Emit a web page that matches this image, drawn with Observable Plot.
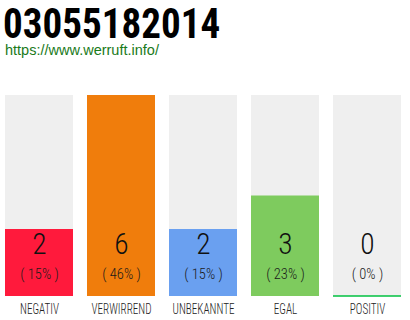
<!DOCTYPE html>
<html>
<head>
<meta charset="utf-8">
<script src="https://cdn.jsdelivr.net/npm/d3@7"></script>
<script src="https://cdn.jsdelivr.net/npm/@observablehq/plot@0.6"></script>
<style>
  html, body { margin: 0; padding: 0; background: #fff; }
  #wrap { width: 410px; height: 320px; overflow: hidden; }
  .title {
    height: 40px; padding-left: 3px; white-space: nowrap;
  }
  .title span {
    display: inline-block; position: relative; top: 3.7px;
    font-family: "Roboto Condensed", "Roboto", sans-serif;
    font-weight: bold; font-size: 42px; line-height: 40px;
    color: #000; transform: scaleX(0.93); transform-origin: left center;
  }
  .sub {
    font-family: "Liberation Sans", Arial, sans-serif;
    font-size: 14.5px; line-height: 20px; height: 20px;
    color: #1a7a1a; padding-left: 5px;
  }
  svg text { font-family: "Roboto Condensed", "Roboto", sans-serif; font-weight: 300; }
</style>
</head>
<body>
<div id="wrap">
  <div class="title"><span>03055182014</span></div>
  <div class="sub">https://www.werruft.info/</div>
  <div id="chart"></div>
</div>
<script>
// Ratings for the phone number
const categories = ["NEGATIV", "VERWIRREND", "UNBEKANNTE", "EGAL", "POSITIV"];
const counts = [2, 6, 2, 3, 0];
const colors = ["#ff1a3c", "#f07d0c", "#6aa0f0", "#7ecb5e", "#00c040"];

const total = d3.sum(counts);
const maxCount = d3.max(counts);
const rows = categories.map((c, i) => ({
  cat: c,
  n: counts[i],
  pct: `( ${Math.round(counts[i] / total * 100)}% )`,
  color: colors[i]
}));

const chart = Plot.plot({
  width: 410,
  height: 260,
  marginLeft: 5,
  marginRight: 9,
  marginTop: 35,
  marginBottom: 24,
  x: { domain: categories, paddingInner: 14 / 82, paddingOuter: 0, label: null },
  y: { domain: [0, maxCount], axis: null },
  color: { type: "identity" },
  marks: [
    // grey track behind every column
    Plot.barY(rows, { x: "cat", y: maxCount, fill: "#efefef" }),
    // count bars
    Plot.barY(rows.filter(d => d.n > 0), { x: "cat", y: "n", fill: "color" }),
    // a zero count is shown as a thin line on the baseline
    Plot.tickY(rows.filter(d => d.n === 0), { x: "cat", y: 0, stroke: "color", strokeWidth: 1.5, dy: -0.5 }),
    Plot.text(rows, { x: "cat", text: d => String(d.n), frameAnchor: "bottom", dy: -42.4, fontSize: 29.5, fill: "#111", ariaLabel: "count" }),
    Plot.text(rows, { x: "cat", text: "pct", frameAnchor: "bottom", dy: -17.1, fontSize: 14.5, fill: "#1a1a1a", ariaLabel: "share" }),
    Plot.axisX({ tickSize: 0, tickPadding: 6, fontSize: 15.5, fill: "#222", label: null })
  ]
});

document.getElementById("chart").append(chart);

// narrow the light condensed labels horizontally around their own centre
function squeeze(selector, k) {
  chart.querySelectorAll(selector).forEach(t => {
    const b = t.getBBox();
    const cx = b.x + b.width / 2;
    const tr = t.getAttribute("transform") || "";
    t.setAttribute("transform", `${tr} translate(${cx},0) scale(${k},1) translate(${-cx},0)`);
  });
}
squeeze('g[aria-label="count"] text', 0.8);
squeeze('g[aria-label="share"] text', 0.8);
squeeze('g[aria-label="x-axis tick label"] text', 0.72);
</script>
</body>
</html>
